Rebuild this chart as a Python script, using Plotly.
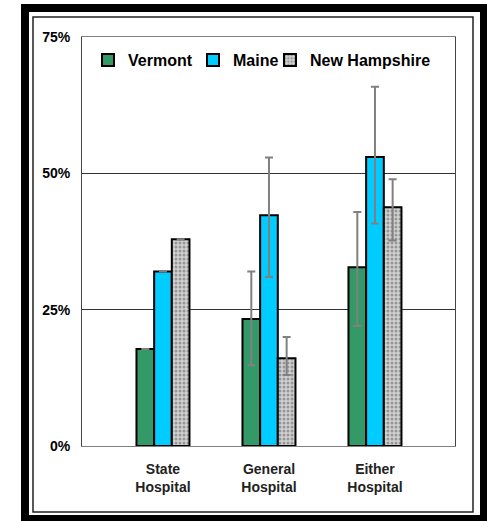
import plotly.graph_objects as go

categories = ["State<br>Hospital", "General<br>Hospital", "Either<br>Hospital"]
vermont = [17.8, 23.3, 32.8]
vermont_plus = [0, 8.7, 10.1]
vermont_minus = [0, 8.5, 10.8]
maine = [32.0, 42.3, 53.0]
maine_plus = [0, 10.6, 12.9]
maine_minus = [0, 11.3, 12.2]
nh = [37.9, 16.1, 43.8]
nh_plus = [0, 3.9, 5.1]
nh_minus = [0, 3.1, 6.1]
ytick_vals = [0, 25, 50, 75]
ytick_text = ["0%", "25%", "50%", "75%"]

FONT = "Liberation Sans, Arial, sans-serif"
W, H = 487, 521
L, R, T, B = 82, 455, 37, 446


def px(x):
    return (x - L) / (R - L)


def py(y):
    return (B - y) / (B - T)


def err(plus, minus):
    return dict(type="data", symmetric=False, array=plus, arrayminus=minus,
                color="#808080", thickness=2, width=4)


fig = go.Figure()
fig.add_trace(go.Bar(name="Vermont", x=categories, y=vermont, legend="legend",
                     marker=dict(color="#339966", line=dict(color="black", width=2)),
                     error_y=err(vermont_plus, vermont_minus)))
fig.add_trace(go.Bar(name="Maine", x=categories, y=maine, legend="legend2",
                     marker=dict(color="#00CCFF", line=dict(color="black", width=2)),
                     error_y=err(maine_plus, maine_minus)))
fig.add_trace(go.Bar(name="New Hampshire", x=categories, y=nh, legend="legend3",
                     marker=dict(color="#c8c8c8", line=dict(color="black", width=2),
                                 pattern=dict(shape=".", fgcolor="#5a5a5a", bgcolor="#d2d2d2",
                                              size=4, solidity=0.45)),
                     error_y=err(nh_plus, nh_minus)))

shapes = [
    dict(type="rect", xref="paper", yref="paper", x0=px(25), x1=px(484), y0=py(8), y1=py(519),
         line=dict(color="black", width=8), fillcolor="rgba(0,0,0,0)", layer="above"),
    dict(type="rect", xref="paper", yref="paper", x0=px(33), x1=px(473), y0=py(17), y1=py(512),
         line=dict(color="#222", width=1.5), fillcolor="rgba(0,0,0,0)", layer="above"),
]


def leg(x):
    return dict(orientation="h", x=px(x), xanchor="left", y=py(60), yanchor="middle",
                font=dict(family=FONT, size=16, color="black", weight="bold"),
                bgcolor="rgba(0,0,0,0)", itemwidth=30)


fig.update_layout(
    width=W, height=H,
    margin=dict(l=L, r=W - R, t=T, b=H - B, pad=0),
    paper_bgcolor="white", plot_bgcolor="white",
    barmode="group", bargap=0.5, bargroupgap=0,
    font=dict(family=FONT, size=14, color="black", weight="bold"),
    showlegend=True,
    legend=leg(88), legend2=leg(193), legend3=leg(270),
    shapes=shapes,
    xaxis=dict(type="category", range=[-0.764, 2.755], showgrid=False,
               showline=True, linecolor="#808080", linewidth=1, mirror=True,
               ticks="outside", ticklen=10, tickcolor="rgba(0,0,0,0)",
               tickfont=dict(family=FONT, size=14, color="#222", weight="bold")),
    yaxis=dict(range=[0, 75], tickvals=ytick_vals, ticktext=ytick_text,
               showgrid=True, gridcolor="#333", gridwidth=1,
               showline=True, linecolor="#444", linewidth=1, mirror=True,
               ticks="outside", ticklen=8, tickcolor="rgba(0,0,0,0)",
               tickfont=dict(family=FONT, size=14, color="black", weight="bold"),
               zeroline=False),
)

fig.write_html("out.html")
